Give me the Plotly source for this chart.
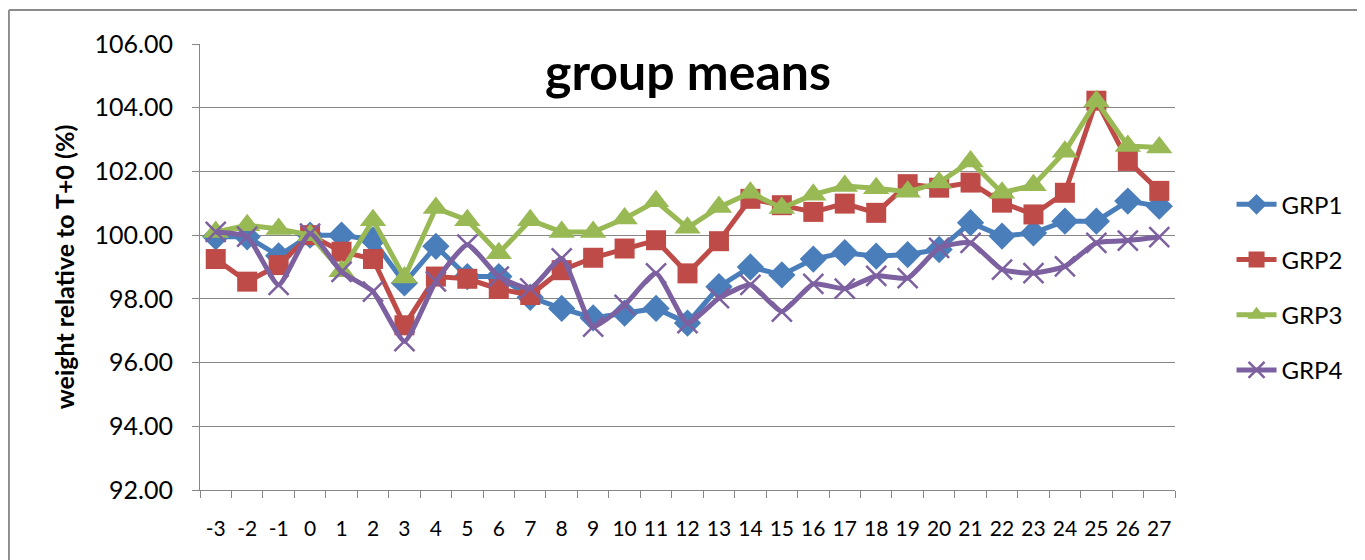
import plotly.graph_objects as go

weeks = [str(v) for v in range(-3, 28)]
grp1 = [99.95, 99.95, 99.35, 100.0, 100.0, 99.85, 98.5, 99.65, 98.7, 98.7, 98.05, 97.7, 97.4, 97.55, 97.7,
        97.24, 98.38, 99.0, 98.75, 99.25, 99.45, 99.34, 99.39, 99.55, 100.39, 99.97, 100.07, 100.44,
        100.44, 101.07, 100.91]
grp2 = [99.25, 98.54, 99.06, 100.0, 99.48, 99.25, 97.17, 98.7, 98.63, 98.31, 98.12, 98.9, 99.29, 99.58,
        99.84, 98.8, 99.81, 101.14, 100.94, 100.73, 100.99, 100.7, 101.6, 101.49, 101.65, 101.02, 100.65,
        101.33, 104.22, 102.33, 101.39]
grp3 = [100.1, 100.31, 100.19, 100.0, 98.87, 100.47, 98.67, 100.85, 100.47, 99.43, 100.47, 100.1, 100.1,
        100.52, 101.06, 100.23, 100.88, 101.33, 100.85, 101.27, 101.54, 101.47, 101.36, 101.65, 102.31,
        101.33, 101.57, 102.62, 104.2, 102.8, 102.75]
grp4 = [100.1, 99.95, 98.44, 100.05, 98.85, 98.23, 96.67, 98.55, 99.7, 98.7, 98.33, 99.27, 97.13, 97.81,
        98.8, 97.24, 98.02, 98.44, 97.6, 98.47, 98.32, 98.72, 98.65, 99.6, 99.76, 98.92, 98.81, 99.02,
        99.76, 99.83, 99.94]
y_ticks = [92, 94, 96, 98, 100, 102, 104, 106]

FONT = "Lato"
fig = go.Figure()

series = [
    ("GRP1", grp1, "#4A7EBB", dict(symbol="diamond", size=21), "linear"),
    ("GRP2", grp2, "#BE4B48", dict(symbol="square", size=20), "linear"),
    ("GRP3", grp3, "#98B954", dict(symbol="triangle-up", size=23), "linear"),
    ("GRP4", grp4, "#7D60A0", dict(symbol="x-thin-open", size=20, line=dict(width=2.5)), "spline"),
]
for name, vals, color, mk, shape in series:
    fig.add_trace(go.Scatter(
        x=weeks, y=vals, name=name, mode="lines+markers", legendgroup=name,
        line=dict(color=color, width=5, shape=shape, smoothing=0.5),
        marker=dict(color=color, **mk),
    ))

frame = dict(xref="paper", yref="paper", line=dict(color="#8C8C8C", width=2), layer="above")
fig.update_layout(
    width=1357, height=552,
    margin=dict(l=192, r=190, t=36, b=70, autoexpand=False),
    paper_bgcolor="white", plot_bgcolor="white",
    font=dict(family=FONT, color="black"),
    showlegend=True,
    legend=dict(x=1.058, y=0.69, xanchor="left", yanchor="top", font=dict(size=24, family=FONT),
                tracegroupgap=21, itemwidth=40, bgcolor="rgba(0,0,0,0)"),
    annotations=[dict(text="<b>group means</b>", x=0.5, y=0.94, xref="paper", yref="paper",
                      showarrow=False, font=dict(size=50, family=FONT), xanchor="center", yanchor="middle")],
    shapes=[
        dict(type="line", x0=-0.196, x1=1.2, y0=1.076, y1=1.076, **frame),
        dict(type="line", x0=-0.196, x1=-0.196, y0=-0.2, y1=1.076, **frame),
    ],
)
fig.update_xaxes(
    type="category", tickson="boundaries", ticks="outside", ticklen=7, tickcolor="#868686",
    showline=True, linecolor="#868686", linewidth=1, showgrid=False, automargin=False,
    tickfont=dict(size=21, family=FONT), ticklabelstandoff=20, tickangle=0,
    range=[-0.5, 30.5],
)
fig.update_yaxes(
    range=[92, 106], tickvals=y_ticks, tickformat=".2f", ticks="outside", ticklen=7, tickcolor="#868686",
    showline=True, linecolor="#868686", linewidth=1, showgrid=True, gridcolor="#868686", gridwidth=1,
    tickfont=dict(size=25, family=FONT), ticklabelstandoff=14, zeroline=False, automargin=False,
    title=dict(text="<b>weight relative to T+0 (%)</b>", font=dict(size=25, family=FONT), standoff=12),
)

fig.write_html("out.html")
